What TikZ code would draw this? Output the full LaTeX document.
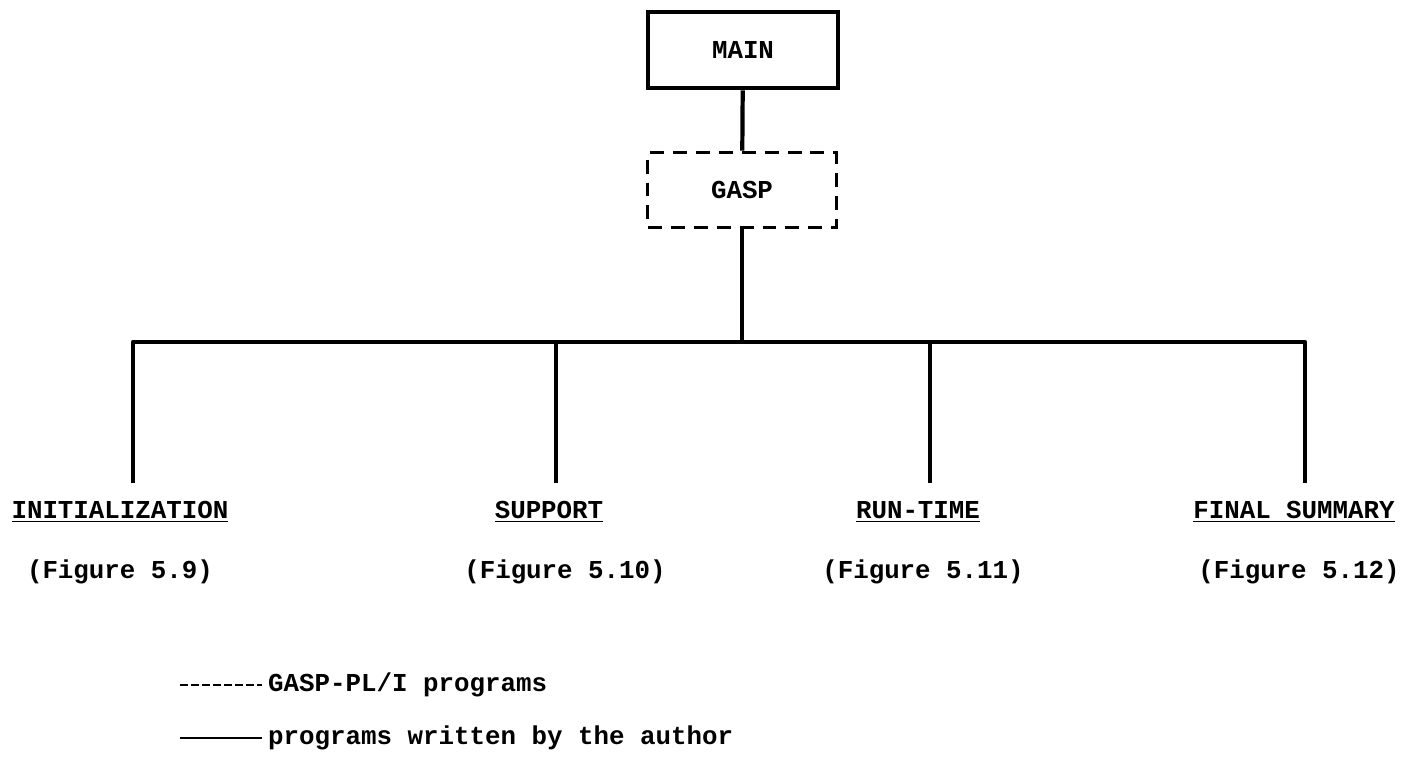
\documentclass[tikz,border=0pt]{standalone}
\usepackage{fontspec}
\setmonofont{Liberation Mono}
\usetikzlibrary{positioning}

\begin{document}
\begin{tikzpicture}[x=0.02cm,y=-0.02cm,
        every node/.style={font=\ttfamily\bfseries\fontsize{14.7}{17}\selectfont},
        prog/.style={draw,line width=2.6pt,minimum width=3.8cm,minimum height=1.52cm},
        gasprog/.style={draw,line width=2.2pt,dash pattern=on 0.28cm off 0.18cm,minimum width=3.78cm,minimum height=1.5cm},
        link/.style={line width=2.4pt},
        part/.style={inner sep=1pt}]
    \useasboundingbox (0,0) rectangle (1407,762);

        \node[prog] (main) at (743,50) {MAIN};
        \node[gasprog] (gasp) at (742,190) {GASP};
        \draw[link] (main) -- (gasp);

        % bus
        \coordinate (b1) at (133,342);
        \coordinate (b2) at (556,342);
        \coordinate (b3) at (930,342);
        \coordinate (b4) at (1305,342);
        \coordinate (d1) at (133,483);
        \coordinate (d2) at (556,483);
        \coordinate (d3) at (930,483);
        \coordinate (d4) at (1305,483);
        \draw[link] (gasp.south) -- (gasp.south |- b1);
        \draw[link,line join=round] (d1) -- (b1) -- (b4) -- (d4);
        \draw[link] (b2) -- (d2);
        \draw[link] (b3) -- (d3);

        \node[part] (init) at (120,512) {\underline{INITIALIZATION}};
        \node[part] (supp) at (549,512) {\underline{SUPPORT}};
        \node[part] (run) at (918,512) {\underline{RUN-TIME}};
        \node[part] (fin) at (1294,512) {\underline{FINAL SUMMARY}};

        \node (f1) at (120,572) {(Figure 5.9)};
        \node (f2) at (565,572) {(Figure 5.10)};
        \node (f3) at (923,572) {(Figure 5.11)};
        \node (f4) at (1299,572) {(Figure 5.12)};

        % legend
        \node[anchor=west] (leg1) at (262,685) {GASP-PL/I programs};
        \node[anchor=west] (leg2) at (262,738) {programs written by the author};
        \coordinate (k1) at (180,685);
        \coordinate (k2) at (180,738);
        \draw[line width=1.4pt,dash pattern=on 0.16cm off 0.06cm] (k1) -- (leg1.west);
        \draw[line width=1.4pt] (k2) -- (leg2.west);
    \end{tikzpicture}
\end{document}
